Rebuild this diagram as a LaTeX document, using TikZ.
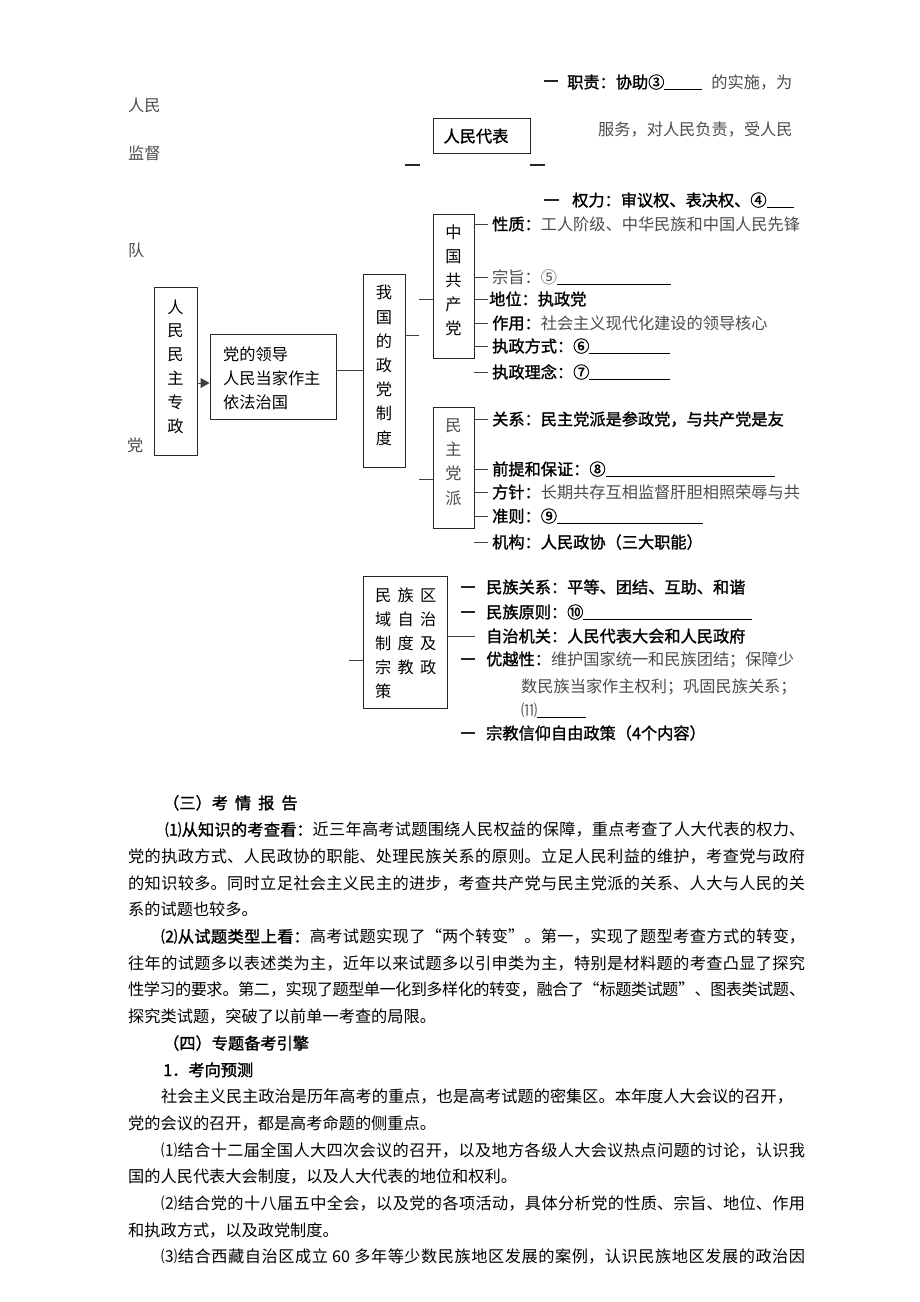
\documentclass[tikz,border=0pt]{standalone}
\usepackage{fontspec}
\setmainfont{Noto Sans CJK SC}[BoldFont={Noto Sans CJK SC},BoldFeatures={FakeBold=1.4}]
\usetikzlibrary{arrows.meta}
\XeTeXlinebreaklocale "zh"
\XeTeXlinebreakskip=0pt plus 2pt minus 1pt
\newcommand{\blank}[1]{\rule[-1pt]{#1pt}{0.7pt}}
\newcommand{\thin}[1]{\textcolor{black!70}{#1}}
\begin{document}
\begin{tikzpicture}[x=1pt,y=-1pt,
  every node/.style={inner sep=0pt,font=\fontsize{16.2}{24}\selectfont},
  lbl/.style={anchor=west,text height=14.3pt,text depth=1.9pt},
  boxn/.style={draw=black!85,line width=0.9pt,inner sep=0pt},
  vt/.style={align=center},
  ln/.style={draw=black!75,line width=0.9pt},
  dsh/.style={draw=black!85,line width=1.3pt},
  arr/.style={ln,-{Triangle[length=9pt,width=10pt]}}]
\fill[white] (0,0) rectangle (920,1302);
\useasboundingbox (0,0) rectangle (920,1302);

% ---------- top: people's deputies ----------
\coordinate (d1a) at (544,81); \coordinate (d1b) at (558,81);
\draw[dsh] (d1a) -- (d1b);
\node[lbl] (zz) at (567,82) {\textbf{职责：协助③}\blank{38}\hspace{9pt}\thin{的实施，为}};
\node[lbl] (rm1) at (128,105) {\thin{人民}};
\node[boxn,minimum width=97pt,minimum height=35pt] (rmdb) at (481.5,135.5) {};
\node[lbl,anchor=center] (rmdbt) at (476,136) {\textbf{人民代表}};
\node[lbl] (fw) at (598,129) {\thin{服务，对人民负责，受人民}};
\node[lbl] (jd) at (128,153) {\thin{监督}};
\coordinate (d2a) at (405,165); \coordinate (d2b) at (420,165);
\coordinate (d3a) at (530,165); \coordinate (d3b) at (545,165);
\draw[dsh] (d2a) -- (d2b);
\draw[dsh] (d3a) -- (d3b);
\coordinate (d4a) at (544,200); \coordinate (d4b) at (559,200);
\draw[dsh] (d4a) -- (d4b);
\node[lbl] (ql) at (572,200) {\textbf{权力：审议权、表决权、④}\blank{27}};
\node[lbl] (dui) at (128,250) {\thin{队}};
\node[lbl] (dang) at (127,445) {\thin{党}};

% ---------- boxes ----------
\node[boxn,minimum width=43pt,minimum height=168pt] (rmmz) at (175.5,371) {};
\node[vt,font=\fontsize{16.2}{23.8}\selectfont] (rmmzt) at (175.5,366.5) {人\\民\\民\\主\\专\\政};

\node[boxn,minimum width=126pt,minimum height=85pt] (dl) at (273,376.5) {};
\node[align=left,anchor=west] (dlt) at (223,378) {党的领导\\人民当家作主\\依法治国};

\node[boxn,minimum width=42pt,minimum height=193pt] (zd) at (384,370.5) {};
\node[vt,font=\fontsize{16.2}{24.2}\selectfont] (zdt) at (384,365.5) {我\\国\\的\\政\\党\\制\\度};

\node[boxn,minimum width=41pt,minimum height=144pt] (cpc) at (453.5,286) {};
\node[vt] (cpct) at (453.5,280) {中\\国\\共\\产\\党};

\node[boxn,minimum width=41pt,minimum height=121pt] (mz) at (453.5,467.5) {};
\node[vt,text=black!70,font=\fontsize{16.2}{24.3}\selectfont] (mzt) at (453.5,462) {民\\主\\党\\派};

\node[boxn,minimum width=84pt,minimum height=132pt] (mq) at (405,642) {};
\node[align=left,anchor=west] (mqt) at (375,643) {民\hspace{6.3pt}族\hspace{6.3pt}区\\域\hspace{6.3pt}自\hspace{6.3pt}治\\制\hspace{6.3pt}度\hspace{6.3pt}及\\宗\hspace{6.3pt}教\hspace{6.3pt}政\\策};

% ---------- connectors ----------
\coordinate (ya) at (0,383);
\draw[arr] (rmmz.east |- ya) -- (dl.west |- ya);
\draw[ln] (dl.east |- zd.west) -- (zd.west);
\coordinate (s1) at (419,335); \draw[ln] (zd.east |- s1) -- (s1);
\coordinate (s2) at (419,299); \draw[ln] (s2) -- (cpc.west |- s2);
\coordinate (s3) at (419,479); \draw[ln] (s3) -- (mz.west |- s3);
\coordinate (s4) at (349,660); \draw[ln] (s4) -- (mq.west |- s4);

\foreach \yy in {224,277,299,323,346,372} \draw[ln] (cpc.east |- 0,\yy) -- (488,\yy);
\foreach \yy in {419,469,492,516,542} \draw[ln] (mz.east |- 0,\yy) -- (488,\yy);
\draw[ln] (mq.east |- 0,636) -- (475,636);
\foreach \yy in {587,612,659,733} \draw[dsh] (461,\yy) -- (475,\yy);

% ---------- CPC items ----------
\node[lbl] (c1) at (492,224) {\textbf{性质：}\thin{工人阶级、中华民族和中国人民先锋}};
\node[lbl] (c2) at (492,277) {\thin{宗旨：⑤}\blank{114}};
\node[lbl] (c3) at (489,299) {\textbf{地位：执政党}};
\node[lbl] (c4) at (492,323) {\textbf{作用：}\thin{社会主义现代化建设的领导核心}};
\node[lbl] (c5) at (492,346) {\textbf{执政方式：⑥}\blank{81}};
\node[lbl] (c6) at (492,372) {\textbf{执政理念：⑦}\blank{81}};

% ---------- democratic parties ----------
\node[lbl] (m1) at (492,419) {\textbf{关系：民主党派是参政党，与共产党是友}};
\node[lbl] (m2) at (492,469) {\textbf{前提和保证：⑧}\blank{169}};
\node[lbl] (m3) at (492,492) {\textbf{方针：}\thin{长期共存互相监督肝胆相照荣辱与共}};
\node[lbl] (m4) at (492,516) {\textbf{准则：⑨}\blank{146}};
\node[lbl] (m5) at (492,542) {\textbf{机构：人民政协（三大职能）}};

% ---------- regional autonomy ----------
\node[lbl] (q1) at (486,587) {\textbf{民族关系：平等、团结、互助、和谐}};
\node[lbl] (q2) at (486,612) {\textbf{民族原则：⑩}\blank{169}};
\node[lbl] (q3) at (486,636) {\textbf{自治机关：人民代表大会和人民政府}};
\node[lbl] (q4) at (486,659) {\textbf{优越性：}\thin{维护国家统一和民族团结；保障少}};
\node[lbl] (q5) at (521,686) {\thin{数民族当家作主权利；巩固民族关系；}};
\node[lbl] (q6) at (521,710) {\thin{⑾}\blank{49}};
\node[lbl] (q7) at (486,733) {\textbf{宗教信仰自由政策（4个内容）}};

% ---------- text block ----------
\node[anchor=base west,text width=677pt,align=justify,font=\fontsize{16.2}{26.7}\selectfont] (para) at (128,809) {%
\hspace*{35pt}\textbf{（三）考\hspace{7pt}情\hspace{7pt}报\hspace{7pt}告}\par
\hspace*{37pt}\textbf{⑴从知识的考查看：}近三年高考试题围绕人民权益的保障，重点考查了人大代表的权力、\linebreak
党的执政方式、人民政协的职能、处理民族关系的原则。立足人民利益的维护，考查党与政府\linebreak
的知识较多。同时立足社会主义民主的进步，考查共产党与民主党派的关系、人大与人民的关\linebreak
系的试题也较多。\par
\hspace*{33pt}\textbf{⑵从试题类型上看：}高考试题实现了“两个转变”。第一，实现了题型考查方式的转变，\linebreak
往年的试题多以表述类为主，近年以来试题多以引申类为主，特别是材料题的考查凸显了探究\linebreak
性学习的要求。第二，实现了题型单一化到多样化的转变，融合了“标题类试题”、图表类试题、\linebreak
探究类试题，突破了以前单一考查的局限。\par
\hspace*{35pt}\textbf{（四）专题备考引擎}\par
\hspace*{35pt}\textbf{1．考向预测}\par
\hspace*{33pt}社会主义民主政治是历年高考的重点，也是高考试题的密集区。本年度人大会议的召开，\\
党的会议的召开，都是高考命题的侧重点。\par
\hspace*{33pt}⑴结合十二届全国人大四次会议的召开，以及地方各级人大会议热点问题的讨论，认识我\linebreak
国的人民代表大会制度，以及人大代表的地位和权利。\par
\hspace*{33pt}⑵结合党的十八届五中全会，以及党的各项活动，具体分析党的性质、宗旨、地位、作用\linebreak
和执政方式，以及政党制度。\par
\hspace*{33pt}⑶结合西藏自治区成立 60 多年等少数民族地区发展的案例，认识民族地区发展的政治因\linebreak
};
\end{tikzpicture}
\end{document}
